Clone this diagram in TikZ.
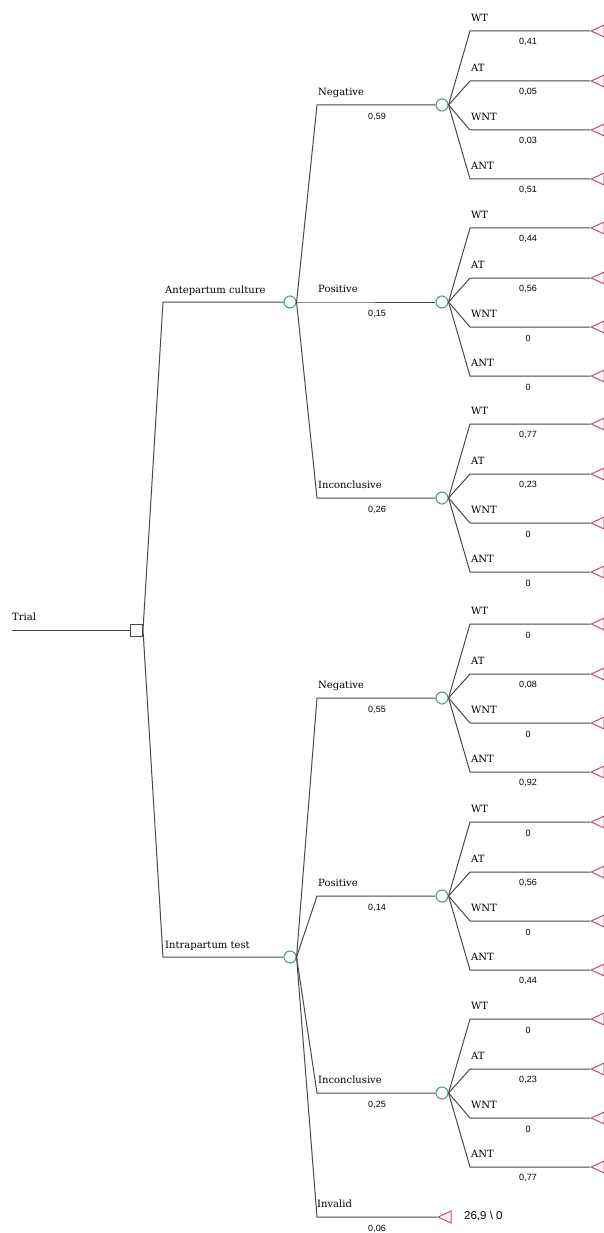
\documentclass[tikz,border=0pt]{standalone}
\usepackage{fontspec}
\setmainfont{DejaVu Serif}
\newfontfamily\probfont{Liberation Sans}
\usepackage{xcolor}
\usetikzlibrary{shapes.geometric,positioning}
\definecolor{branchgray}{HTML}{4A4A4A}
\definecolor{chancegreen}{HTML}{4F9A8C}
\definecolor{leafred}{HTML}{C84A6A}

\begin{document}
\begin{tikzpicture}[
x=1pt, y=-1pt,
decision/.style={draw=branchgray, rectangle, minimum size=12pt, inner sep=0pt, line width=1pt},
chance/.style={draw=chancegreen, circle, minimum size=12pt, inner sep=0pt, line width=1.1pt},
leaf/.style={draw=leafred, isosceles triangle, isosceles triangle apex angle=50,
  isosceles triangle stretches, shape border rotate=180, minimum height=13pt,
  minimum width=12pt, inner sep=0pt, anchor=apex, line width=1pt},
branch/.style={draw=branchgray, line width=1pt},
brlabel/.style={font=\fontsize{10}{12}\selectfont, anchor=base west, inner sep=0pt},
prob/.style={font=\probfont\fontsize{9}{10}\selectfont, inner sep=0pt}
]

\useasboundingbox (0,0) rectangle (604,1233);

\node[decision] (trial) at (136.5,630) {};
\coordinate (trialstart) at (12,630);
\node[brlabel] (triallbl) at (12,620) {Trial};
\draw[branch] (trialstart) -- (trial);

\coordinate (antecorner) at (163,302);
\node[chance] (ante) at (290,302) {};
\node[brlabel] (antelbl) at (165,293) {Antepartum culture};
\draw[branch] (trial.east) -- (antecorner) -- (ante);

\coordinate (intracorner) at (163,957);
\node[chance] (intra) at (290,957) {};
\node[brlabel] (intralbl) at (165,948) {Intrapartum test};
\draw[branch] (trial.east) -- (intracorner) -- (intra);

\foreach \g/\src/\lab/\yy/\p in {
  aneg/ante/Negative/105/0{,}59, apos/ante/Positive/302/0{,}15,
  ainc/ante/Inconclusive/498/0{,}26, ineg/intra/Negative/698/0{,}55,
  ipos/intra/Positive/896/0{,}14, iinc/intra/Inconclusive/1093/0{,}25}{
  \coordinate (\g c) at (317,\yy);
  \node[chance] (\g) at (442,\yy) {};
  \node[brlabel] (\g lbl) at (318,\yy-9.5) {\lab};
  \node[prob] (\g p) at (377,\yy+12) {\p};
  \draw[branch] (\src.east) -- (\g c) -- (\g);
}

\coordinate (invc) at (317,1217);
\node[leaf] (inv) at (437,1217) {};
\node[brlabel] (invlbl) at (317,1207.5) {Invalid};
\node[prob] (invp) at (377,1229) {0,06};
\node[prob, font=\probfont\fontsize{11.5}{13}\selectfont, anchor=west] (invval) at (464,1216) {26,9 \textbackslash{} 0};
\draw[branch] (intra.east) -- (invc) -- (inv.apex);

\foreach \g/\lab/\yy/\p in {
  aneg/WT/31/0{,}41, aneg/AT/81/0{,}05, aneg/WNT/130/0{,}03, aneg/ANT/179/0{,}51,
  apos/WT/228/0{,}44, apos/AT/278/0{,}56, apos/WNT/327/0, apos/ANT/376/0,
  ainc/WT/424/0{,}77, ainc/AT/474/0{,}23, ainc/WNT/523/0, ainc/ANT/572/0,
  ineg/WT/624/0, ineg/AT/674/0{,}08, ineg/WNT/723/0, ineg/ANT/772/0{,}92,
  ipos/WT/822/0, ipos/AT/872/0{,}56, ipos/WNT/921/0, ipos/ANT/970/0{,}44,
  iinc/WT/1019/0, iinc/AT/1069/0{,}23, iinc/WNT/1118/0, iinc/ANT/1167/0{,}77}{
  \coordinate (\g\lab c) at (470,\yy);
  \node[leaf] (\g\lab) at (590,\yy) {};
  \node[brlabel] (\g\lab lbl) at (471,\yy-9.5) {\lab};
  \node[prob] (\g\lab p) at (528,\yy+11) {\p};
  \draw[branch] (\g.east) -- (\g\lab c) -- (\g\lab.apex);
}
\end{tikzpicture}
\end{document}
